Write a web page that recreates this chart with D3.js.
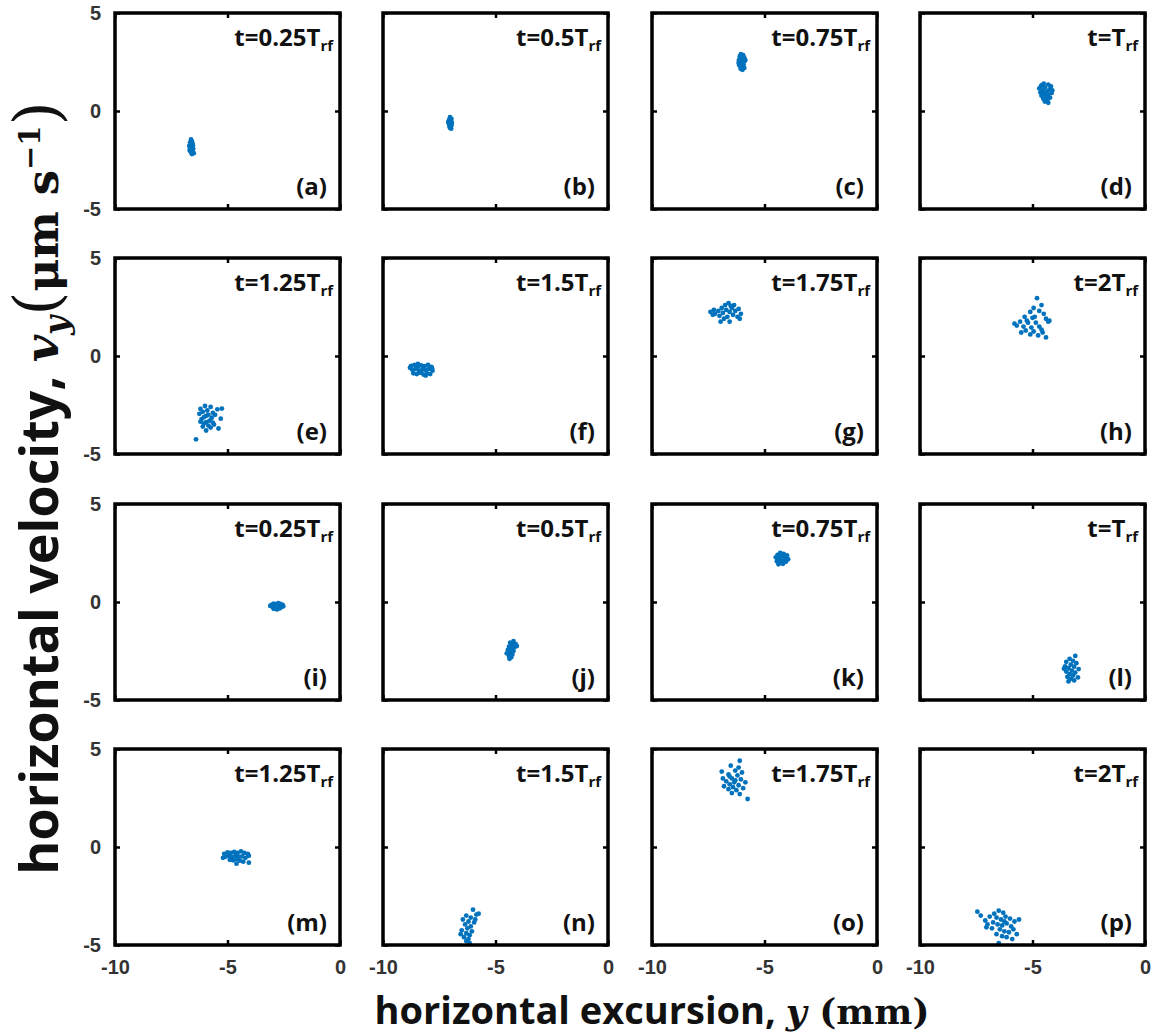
<!DOCTYPE html>
<html>
<head>
<meta charset="utf-8">
<script src="https://cdn.jsdelivr.net/npm/d3@7"></script>
<style>
  body { margin: 0; background: #fff; }
  svg { display: block; }
</style>
</head>
<body>
<div id="chart"></div>
<script>
// panel labels, in reading order
const letters = ['a','b','c','d','e','f','g','h','i','j','k','l','m','n','o','p'];
const times = ['0.25', '0.5', '0.75', '', '1.25', '1.5', '1.75', '2',
               '0.25', '0.5', '0.75', '', '1.25', '1.5', '1.75', '2'];

const xTicks = [-10, -5, 0];
const yTicks = [-5, 0, 5];

// phase-space points [y (mm), v_y (um/s)]
const ptsA = [[-6.62,-1.45],[-6.58,-1.55],[-6.66,-1.6],[-6.55,-1.68],[-6.63,-1.72],[-6.7,-1.78],[-6.57,-1.82],[-6.64,-1.88],[-6.52,-1.93],[-6.6,-1.98],[-6.68,-2.02],[-6.56,-2.06],[-6.62,-2.12],[-6.5,-2.15],[-6.58,-2.2],[-6.66,-1.9],[-6.54,-1.75]];
const ptsB = [[-7.02,-0.32],[-6.96,-0.4],[-7.06,-0.45],[-6.98,-0.5],[-7.04,-0.56],[-6.94,-0.6],[-7.08,-0.63],[-7.0,-0.68],[-6.95,-0.72],[-7.05,-0.76],[-6.99,-0.8],[-7.03,-0.86],[-6.97,-0.9],[-7.1,-0.55]];
const ptsC = [[-6.05,2.9],[-5.95,2.85],[-6.1,2.78],[-5.9,2.72],[-6.02,2.66],[-6.14,2.6],[-5.88,2.55],[-6.0,2.5],[-6.08,2.44],[-5.93,2.38],[-6.12,2.32],[-6.0,2.26],[-5.9,2.2],[-6.06,2.15],[-5.98,2.1],[-6.15,2.45],[-5.85,2.6]];
const ptsD = [[-4.5,1.4],[-4.3,1.35],[-4.62,1.28],[-4.18,1.25],[-4.45,1.2],[-4.7,1.15],[-4.25,1.1],[-4.55,1.05],[-4.35,1.0],[-4.65,0.95],[-4.15,0.92],[-4.48,0.88],[-4.3,0.82],[-4.6,0.78],[-4.4,0.72],[-4.22,0.68],[-4.52,0.62],[-4.35,0.55],[-4.45,0.48],[-4.3,0.42],[-4.58,1.32],[-4.12,1.05]];
const ptsE = [[-6.0,-2.55],[-5.75,-2.6],[-6.2,-2.7],[-5.45,-2.72],[-5.9,-2.78],[-6.1,-2.85],[-5.65,-2.9],[-6.25,-2.95],[-5.85,-3.0],[-5.95,-3.05],[-6.05,-3.12],[-5.7,-3.15],[-5.3,-3.2],[-6.15,-3.22],[-5.8,-3.3],[-5.95,-3.38],[-6.05,-3.45],[-5.6,-3.5],[-5.85,-3.55],[-6.1,-3.6],[-5.75,-3.65],[-5.4,-3.7],[-5.95,-3.8],[-6.4,-4.25],[-5.65,-3.4],[-5.25,-2.68],[-6.2,-3.35],[-5.55,-3.0]];
const ptsF = [[-8.75,-0.5],[-8.6,-0.45],[-8.45,-0.55],[-8.3,-0.48],[-8.15,-0.52],[-8.0,-0.45],[-7.85,-0.55],[-8.7,-0.7],[-8.55,-0.65],[-8.4,-0.75],[-8.25,-0.68],[-8.1,-0.72],[-7.95,-0.65],[-7.8,-0.75],[-8.65,-0.88],[-8.5,-0.92],[-8.35,-0.85],[-8.2,-0.95],[-8.05,-0.88],[-7.9,-0.92],[-8.8,-0.6],[-8.45,-0.4],[-8.1,-1.0],[-8.3,-0.8],[-7.82,-0.62]];
const ptsG = [[-7.4,2.25],[-7.25,2.35],[-7.2,2.15],[-7.05,2.3],[-7.0,2.05],[-6.9,2.45],[-6.85,2.2],[-6.75,2.6],[-6.7,2.35],[-6.65,2.0],[-6.6,2.7],[-6.55,2.25],[-6.45,2.45],[-6.4,2.1],[-6.35,2.6],[-6.3,2.3],[-6.2,2.0],[-6.15,2.4],[-6.1,1.9],[-6.8,1.9],[-6.95,1.75],[-6.55,1.75],[-7.3,2.1],[-6.05,2.15],[-6.5,2.55]];
const ptsH = [[-4.8,2.95],[-4.6,2.6],[-4.95,2.45],[-4.7,2.3],[-5.1,2.25],[-4.5,2.15],[-5.35,2.0],[-5.0,1.95],[-4.4,1.9],[-5.55,1.75],[-5.2,1.7],[-4.85,1.7],[-4.3,1.75],[-5.7,1.55],[-5.4,1.5],[-5.05,1.45],[-4.7,1.5],[-5.3,1.3],[-4.95,1.25],[-4.55,1.2],[-5.1,1.1],[-4.75,1.05],[-4.4,0.95],[-5.5,1.2],[-4.6,1.35],[-5.25,1.8],[-4.9,2.0],[-5.8,1.65],[-4.25,1.8]];
const ptsI = [[-3.05,-0.15],[-2.95,-0.08],[-2.85,-0.12],[-2.75,-0.06],[-2.65,-0.1],[-2.55,-0.15],[-3.0,-0.25],[-2.9,-0.22],[-2.8,-0.28],[-2.7,-0.2],[-2.6,-0.26],[-2.95,-0.35],[-2.8,-0.38],[-2.68,-0.33],[-3.1,-0.2],[-2.52,-0.22]];
const ptsJ = [[-4.2,-2.0],[-4.35,-2.08],[-4.1,-2.15],[-4.25,-2.2],[-4.4,-2.28],[-4.15,-2.3],[-4.3,-2.38],[-4.45,-2.45],[-4.2,-2.5],[-4.35,-2.58],[-4.5,-2.62],[-4.25,-2.68],[-4.4,-2.75],[-4.3,-2.82],[-4.38,-2.9],[-4.05,-2.25]];
const ptsK = [[-4.3,2.5],[-4.15,2.45],[-4.42,2.4],[-4.0,2.38],[-4.25,2.33],[-4.5,2.28],[-4.1,2.25],[-4.35,2.2],[-3.95,2.18],[-4.2,2.12],[-4.45,2.08],[-4.05,2.05],[-4.3,2.0],[-4.18,1.95],[-4.38,1.92]];
const ptsL = [[-3.1,-2.75],[-3.35,-2.9],[-3.2,-3.0],[-3.5,-3.05],[-3.05,-3.12],[-3.3,-3.2],[-3.55,-3.28],[-3.15,-3.3],[-3.4,-3.38],[-2.95,-3.42],[-3.25,-3.5],[-3.5,-3.55],[-3.1,-3.6],[-3.35,-3.68],[-3.2,-3.75],[-3.45,-3.82],[-2.98,-3.85],[-3.3,-3.92],[-3.15,-4.0],[-3.4,-4.05],[-3.6,-3.4]];
const ptsM = [[-5.15,-0.35],[-5.0,-0.28],[-4.85,-0.3],[-4.7,-0.25],[-4.55,-0.3],[-4.4,-0.22],[-4.25,-0.3],[-5.1,-0.5],[-4.95,-0.45],[-4.8,-0.52],[-4.65,-0.45],[-4.5,-0.5],[-4.35,-0.48],[-4.2,-0.55],[-4.05,-0.45],[-4.9,-0.65],[-4.75,-0.68],[-4.6,-0.62],[-4.45,-0.7],[-4.3,-0.75],[-4.05,-0.8],[-4.6,-0.85],[-5.2,-0.55],[-4.1,-0.35]];
const ptsN = [[-6.0,-3.2],[-5.85,-3.45],[-6.3,-3.5],[-6.1,-3.6],[-5.75,-3.4],[-6.45,-3.7],[-6.2,-3.8],[-5.95,-3.85],[-6.35,-3.95],[-6.1,-4.05],[-6.25,-4.15],[-6.5,-4.25],[-6.05,-4.3],[-6.3,-4.4],[-6.15,-4.5],[-6.4,-4.6],[-6.2,-4.7],[-6.3,-4.8],[-6.15,-4.9],[-6.55,-4.45],[-5.9,-3.7]];
const ptsO = [[-6.1,4.4],[-6.5,4.15],[-6.15,4.05],[-6.9,3.85],[-6.3,3.9],[-6.0,3.8],[-6.6,3.7],[-6.2,3.65],[-6.85,3.5],[-6.45,3.5],[-6.05,3.45],[-6.7,3.35],[-6.35,3.3],[-5.85,3.3],[-6.55,3.2],[-6.15,3.15],[-6.8,3.1],[-6.4,3.05],[-5.95,3.0],[-6.6,2.95],[-6.25,2.9],[-6.45,2.75],[-6.1,2.7],[-5.75,2.45],[-6.55,3.6],[-6.3,3.4]];
const ptsP = [[-7.45,-3.3],[-7.3,-3.5],[-7.1,-3.75],[-6.9,-3.55],[-6.7,-3.4],[-6.5,-3.25],[-6.3,-3.35],[-6.6,-3.6],[-6.4,-3.7],[-6.2,-3.55],[-6.0,-3.65],[-5.8,-3.8],[-5.6,-3.7],[-6.75,-3.85],[-6.55,-3.95],[-6.35,-4.0],[-6.15,-3.9],[-5.95,-4.05],[-7.05,-4.1],[-6.45,-4.2],[-6.25,-4.3],[-6.05,-4.35],[-5.85,-4.2],[-6.6,-4.45],[-6.35,-4.55],[-6.15,-4.6],[-5.9,-4.7],[-6.5,-4.9],[-7.0,-3.95],[-6.8,-4.15],[-5.7,-4.45],[-6.25,-3.8]];

const panelPts = [ptsA, ptsB, ptsC, ptsD, ptsE, ptsF, ptsG, ptsH,
                  ptsI, ptsJ, ptsK, ptsL, ptsM, ptsN, ptsO, ptsP];

const width = 1156, height = 1036;
const colX = [115, 383, 652, 920];
const rowY = [13, 258, 504, 749];
const pw = 225, ph = 196;
const blue = '#0072BD';

const svg = d3.select('#chart').append('svg')
  .attr('width', width)
  .attr('height', height);

const x = d3.scaleLinear().domain([-10, 0]).range([0, pw]);
const y = d3.scaleLinear().domain([-5, 5]).range([ph, 0]);

panelPts.forEach((pts, i) => {
  const row = Math.floor(i / 4), col = i % 4;
  const g = svg.append('g')
    .attr('transform', `translate(${colX[col]},${rowY[row]})`);

  // ticks on all four sides, pointing in
  const axes = [
    [d3.axisBottom(x), `translate(0,${ph})`, row === 3],
    [d3.axisTop(x), 'translate(0,0)', false],
    [d3.axisLeft(y), 'translate(0,0)', col === 0],
    [d3.axisRight(y), `translate(${pw},0)`, false]
  ];
  axes.forEach(([ax, tr, labels], k) => {
    ax.tickValues(k < 2 ? xTicks : yTicks)
      .tickSizeInner(-5).tickSizeOuter(0)
      .tickPadding(k < 2 ? 15 : 14)
      .tickFormat(labels ? d3.format('d') : '');
    const a = g.append('g').attr('transform', tr).call(ax);
    a.select('.domain').remove();
    a.selectAll('line').attr('stroke', '#000').attr('stroke-width', 2.5);
    a.selectAll('text')
      .attr('fill', '#333')
      .style('font', 'bold 20px "Liberation Sans", Arial, sans-serif')
      .text(d => labels ? (d < 0 ? '-' + Math.abs(d) : d) : '');
  });

  g.append('g').selectAll('circle')
    .data(pts)
    .join('circle')
      .attr('cx', d => x(d[0]))
      .attr('cy', d => y(d[1]))
      .attr('r', 2.4)
      .attr('fill', blue);

  g.append('rect')
    .attr('width', pw).attr('height', ph)
    .attr('fill', 'none')
    .attr('stroke', '#000')
    .attr('stroke-width', 3.5);

  const t = g.append('text')
    .attr('x', pw - 7).attr('y', 33)
    .attr('text-anchor', 'end')
    .style('font', 'bold 24px "Open Sans", sans-serif')
    .attr('fill', '#111');
  t.append('tspan').text(`t=${times[i]}T`);
  t.append('tspan').attr('dy', 5).style('font-size', '15px').text('rf');

  g.append('text')
    .attr('x', pw - 13).attr('y', ph - 14)
    .attr('text-anchor', 'end')
    .style('font', 'bold 24px "Open Sans", sans-serif')
    .attr('fill', '#111')
    .text(`(${letters[i]})`);
});

// axis titles
const xt = svg.append('text')
  .attr('x', 652).attr('y', 1024)
  .attr('text-anchor', 'middle')
  .attr('fill', '#111')
  .style('font', 'bold 38px "Open Sans", sans-serif');
xt.append('tspan').text('horizontal excursion, ');
xt.append('tspan').style('font-family', '"DejaVu Serif", serif').style('font-style', 'italic').style('font-size', '36px').text('y');
xt.append('tspan').style('font-family', '"DejaVu Serif", serif').style('font-size', '36px').text(' (mm)');

const yt = svg.append('text')
  .attr('transform', 'translate(58,488) rotate(-90)')
  .attr('text-anchor', 'middle')
  .attr('fill', '#111')
  .style('font', 'bold 52px "Open Sans", sans-serif');
yt.append('tspan').text('horizontal velocity, ');
yt.append('tspan').style('font-family', '"DejaVu Serif", serif').style('font-style', 'italic').style('font-size', '47px').text('v');
yt.append('tspan').attr('dy', 10).style('font-family', '"DejaVu Serif", serif').style('font-style', 'italic').style('font-size', '33px').text('y');
yt.append('tspan').attr('dy', -10).style('font-family', '"DejaVu Serif", serif').style('font-size', '62px').style('font-weight', 'normal').text('(');
yt.append('tspan').style('font-family', '"DejaVu Serif", serif').style('font-size', '45px').text('μm s');
yt.append('tspan').attr('dy', -18).style('font-family', '"DejaVu Serif", serif').style('font-size', '29px').text('−1');
yt.append('tspan').attr('dy', 18).style('font-family', '"DejaVu Serif", serif').style('font-size', '62px').style('font-weight', 'normal').text(')');
</script>
</body>
</html>
